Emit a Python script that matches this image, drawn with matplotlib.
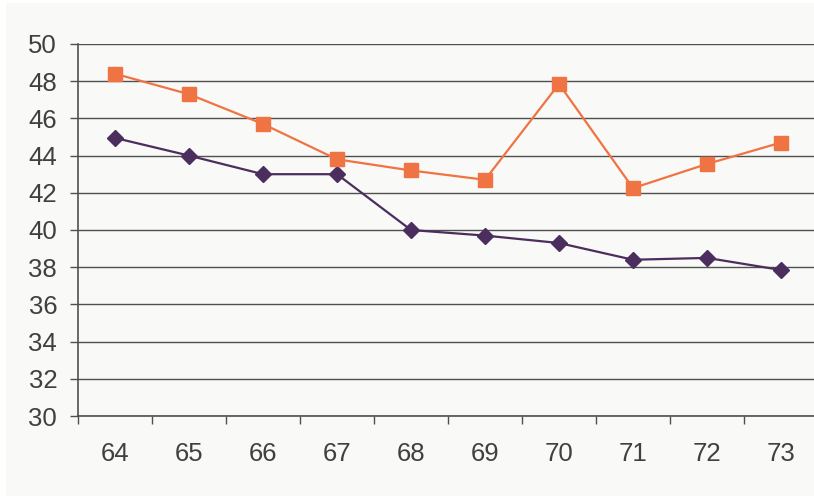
import matplotlib
matplotlib.use("Agg")
import matplotlib.pyplot as plt
from matplotlib.patches import Rectangle
from matplotlib.ticker import FixedLocator

years = ["64", "65", "66", "67", "68", "69", "70", "71", "72", "73"]
series_orange = [48.4, 47.3, 45.7, 43.8, 43.2, 42.7, 47.85, 42.25, 43.55, 44.7]
series_purple = [44.95, 44.0, 43.0, 43.0, 40.0, 39.7, 39.3, 38.4, 38.5, 37.85]
y_ticks = list(range(30, 51, 2))

W, H = 814, 497
fig = plt.figure(figsize=(W / 100, H / 100), dpi=100, facecolor="white")
bg = "#f9f9f7"
fig.patches.append(Rectangle((6 / W, 1 / H), (W - 6) / W, (H - 4) / H,
                             transform=fig.transFigure, facecolor=bg,
                             edgecolor="none", zorder=-10))

left, right, top, bottom = 78, 818, 44, 416
ax = fig.add_axes([left / W, (H - bottom) / H, (right - left) / W, (bottom - top) / H])
ax.set_facecolor(bg)
ax.patch.set_alpha(0)

x = list(range(len(years)))
ax.plot(x, series_purple, color="#4b2d5e", lw=1.6, marker="D", markersize=8.5,
        markerfacecolor="#4b2d5e", markeredgecolor="#4b2d5e", zorder=3, clip_on=False)
ax.plot(x, series_orange, color="#f07443", lw=1.6, marker="s", markersize=10,
        markerfacecolor="#f07443", markeredgecolor="#f07443", zorder=3, clip_on=False)

ax.set_ylim(30, 50)
ax.set_xlim(-0.5, len(years) - 0.5)
ax.set_yticks(y_ticks)
ax.set_yticklabels([str(v) for v in y_ticks])
ax.yaxis.grid(True, color="#505050", lw=1.0)
ax.set_axisbelow(True)

ax.xaxis.set_major_locator(FixedLocator(x))
ax.set_xticklabels(years)
ax.xaxis.set_minor_locator(FixedLocator([i - 0.5 for i in range(len(years) + 1)]))
ax.tick_params(axis="x", which="major", length=0, pad=19, labelsize=18.5, labelcolor="#404040")
ax.tick_params(axis="x", which="minor", length=6, width=1, color="#505050", direction="out")
ax.tick_params(axis="y", length=6, width=1, color="#505050", pad=9, labelsize=18.5,
               labelcolor="#404040")

for s in ("top", "right"):
    ax.spines[s].set_visible(False)
for s in ("left", "bottom"):
    ax.spines[s].set_color("#505050")
    ax.spines[s].set_linewidth(1.2)

for lbl in ax.get_xticklabels() + ax.get_yticklabels():
    lbl.set_fontfamily("Liberation Sans")

fig.savefig("out.png", dpi=100, facecolor="white")
